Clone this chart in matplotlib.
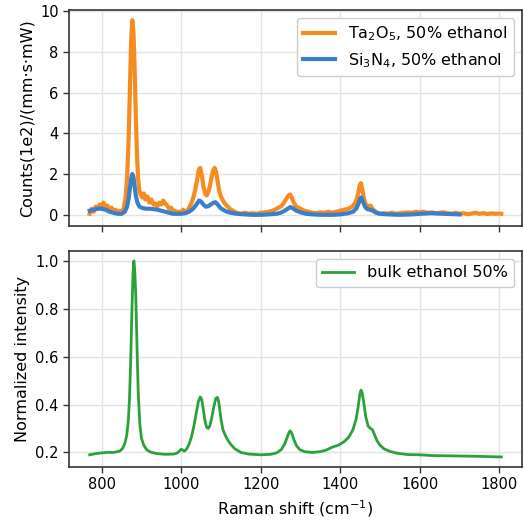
""" Raman spectra: waveguide-enhanced vs bulk 50% ethanol
"""
import matplotlib
matplotlib.use("Agg")
import matplotlib.pyplot as plt

# Ta2O5 waveguide, 50% ethanol (counts in 1e2 / (mm s mW))
ta_shift = [770, 775, 780, 785, 790, 795, 800, 805, 810, 815,
            820, 825, 830, 835, 840, 845, 850, 855, 860, 864,
            868, 871, 874, 877, 880, 883, 886, 889, 892, 895,
            898, 902, 906, 910, 915, 920, 925, 930, 935, 940,
            945, 950, 955, 960, 965, 970, 975, 980, 985, 990,
            995, 1000, 1005, 1010, 1015, 1020, 1025, 1030, 1035, 1040,
            1044, 1048, 1052, 1056, 1060, 1064, 1068, 1072, 1076, 1080,
            1084, 1088, 1092, 1096, 1100, 1105, 1110, 1115, 1120, 1125,
            1130, 1140, 1150, 1160, 1170, 1180, 1190, 1200, 1210, 1220,
            1230, 1240, 1250, 1255, 1260, 1265, 1270, 1274, 1278, 1282,
            1286, 1290, 1295, 1300, 1310, 1320, 1330, 1340, 1350, 1360,
            1370, 1380, 1390, 1400, 1410, 1420, 1430, 1436, 1441, 1445,
            1449, 1452, 1455, 1459, 1463, 1467, 1471, 1476, 1481, 1486,
            1490, 1495, 1500, 1510, 1520, 1530, 1540, 1550, 1560, 1570,
            1580, 1590, 1600, 1610, 1620, 1630, 1640, 1650, 1660, 1670,
            1680, 1690, 1700, 1710, 1720, 1730, 1740, 1750, 1760, 1770,
            1780, 1790, 1800, 1805]
ta_counts = [0.05, 0.3, 0.15, 0.4, 0.3, 0.5, 0.45, 0.6, 0.4, 0.45,
             0.25, 0.35, 0.2, 0.25, 0.1, 0.2, 0.05, 0.3, 0.8, 1.8,
             3.8, 6.0, 8.4, 9.55, 9.0, 7.2, 4.8, 2.9, 1.7, 1.2,
             1.0, 0.85, 1.05, 0.75, 0.9, 0.6, 0.75, 0.5, 0.55, 0.4,
             0.6, 0.5, 0.7, 0.55, 0.45, 0.3, 0.35, 0.15, 0.2, 0.05,
             0.15, 0.1, 0.25, 0.1, 0.2, 0.35, 0.55, 0.8, 1.2, 1.7,
             2.2, 2.3, 1.9, 1.4, 1.05, 0.95, 1.1, 1.4, 1.8, 2.15,
             2.3, 2.1, 1.6, 1.15, 0.9, 0.7, 0.55, 0.45, 0.35, 0.25,
             0.2, 0.1, 0.05, 0.1, 0.05, 0.08, 0.05, 0.1, 0.12, 0.15,
             0.2, 0.3, 0.4, 0.5, 0.65, 0.8, 0.95, 1.0, 0.85, 0.65,
             0.5, 0.4, 0.35, 0.3, 0.2, 0.15, 0.1, 0.08, 0.12, 0.1,
             0.15, 0.1, 0.15, 0.2, 0.25, 0.3, 0.4, 0.55, 0.75, 1.05,
             1.45, 1.55, 1.3, 0.85, 0.55, 0.45, 0.4, 0.45, 0.3, 0.2,
             0.15, 0.08, 0.05, 0.08, 0.05, 0.1, 0.05, 0.08, 0.1, 0.12,
             0.1, 0.15, 0.12, 0.15, 0.1, 0.12, 0.08, 0.1, 0.12, 0.08,
             0.05, 0.1, 0.05, 0.08, 0.03, 0.06, 0.1, 0.05, 0.08, 0.04,
             0.07, 0.05, 0.06, 0.05]

# Si3N4 waveguide, 50% ethanol
si_shift = [770, 780, 790, 800, 810, 820, 830, 840, 850, 858,
            864, 868, 871, 874, 877, 880, 883, 886, 890, 895,
            900, 910, 920, 930, 940, 950, 960, 970, 980, 990,
            1000, 1010, 1020, 1030, 1038, 1045, 1050, 1056, 1062, 1068,
            1074, 1080, 1086, 1092, 1098, 1105, 1115, 1125, 1140, 1160,
            1180, 1200, 1220, 1240, 1250, 1260, 1268, 1275, 1282, 1290,
            1300, 1315, 1330, 1350, 1380, 1400, 1420, 1432, 1440, 1446,
            1450, 1453, 1457, 1462, 1468, 1475, 1482, 1490, 1500, 1520,
            1550, 1580, 1600, 1630, 1660, 1700]
si_counts = [0.2, 0.25, 0.3, 0.3, 0.25, 0.15, 0.1, 0.05, 0.05, 0.15,
             0.4, 0.8, 1.3, 1.75, 2.0, 1.85, 1.4, 0.95, 0.6, 0.4,
             0.35, 0.3, 0.3, 0.28, 0.25, 0.2, 0.15, 0.1, 0.05, 0.05,
             0.05, 0.08, 0.15, 0.3, 0.5, 0.7, 0.65, 0.5, 0.4, 0.42,
             0.5, 0.58, 0.62, 0.5, 0.35, 0.25, 0.15, 0.1, 0.05, 0.02,
             0.0, 0.0, 0.02, 0.05, 0.1, 0.2, 0.3, 0.38, 0.3, 0.2,
             0.12, 0.05, 0.02, 0.0, 0.0, 0.02, 0.08, 0.15, 0.3, 0.55,
             0.8, 0.85, 0.65, 0.4, 0.28, 0.25, 0.2, 0.1, 0.05, 0.02,
             0.0, 0.02, 0.05, 0.08, 0.05, 0.02]

# bulk 50% ethanol, normalized
bulk_shift = [770, 785, 800, 815, 830, 845, 852, 858, 863, 867,
              870, 873, 876, 879, 881, 883, 886, 889, 892, 896,
              900, 906, 914, 925, 940, 960, 980, 990, 995, 1000,
              1004, 1008, 1014, 1020, 1026, 1032, 1038, 1043, 1048, 1052,
              1056, 1060, 1064, 1068, 1072, 1077, 1082, 1087, 1091, 1094,
              1097, 1101, 1105, 1110, 1116, 1124, 1135, 1150, 1170, 1200,
              1225, 1240, 1252, 1260, 1266, 1271, 1274, 1278, 1283, 1290,
              1298, 1310, 1330, 1350, 1365, 1380, 1395, 1410, 1422, 1432,
              1440, 1445, 1449, 1452, 1455, 1459, 1464, 1470, 1476, 1481,
              1486, 1492, 1500, 1510, 1525, 1545, 1570, 1600, 1630, 1660,
              1700, 1740, 1780, 1805]
bulk_norm = [0.19, 0.195, 0.198, 0.2, 0.2, 0.205, 0.215, 0.235, 0.27, 0.33,
             0.42, 0.58, 0.78, 0.95, 1.0, 0.97, 0.85, 0.64, 0.45, 0.32,
             0.26, 0.23, 0.21, 0.2, 0.195, 0.192, 0.193, 0.197, 0.205, 0.213,
             0.21, 0.205, 0.215, 0.235, 0.265, 0.31, 0.365, 0.41, 0.432, 0.42,
             0.375, 0.33, 0.305, 0.3, 0.31, 0.345, 0.39, 0.425, 0.43, 0.415,
             0.38, 0.33, 0.295, 0.275, 0.255, 0.235, 0.215, 0.2, 0.193, 0.19,
             0.192, 0.198, 0.212, 0.235, 0.26, 0.283, 0.29, 0.28, 0.255, 0.228,
             0.212, 0.203, 0.2, 0.203, 0.21, 0.222, 0.23, 0.245, 0.265, 0.295,
             0.34, 0.39, 0.44, 0.46, 0.45, 0.41, 0.35, 0.31, 0.3, 0.295,
             0.275, 0.25, 0.23, 0.215, 0.204, 0.196, 0.191, 0.19, 0.187, 0.186,
             0.185, 0.184, 0.182, 0.181]

plt.rcParams["font.family"] = "DejaVu Sans"
plt.rcParams["font.size"] = 10.5
plt.rcParams["axes.labelsize"] = 11.5
plt.rcParams["legend.fontsize"] = 11.5


def style_axes(ax):
    ax.grid(True, color="#e3e3e3", linewidth=1.0)
    ax.set_axisbelow(True)
    for spine in ax.spines.values():
        spine.set_color("#333333")
        spine.set_linewidth(1.2)
    ax.tick_params(direction="out", length=4, width=1.0, color="#333333")


fig = plt.figure(figsize=(5.24, 5.21), dpi=100)
ax_top = fig.add_axes([0.1317, 0.5662, 0.8645, 0.4146])
ax_bot = fig.add_axes([0.1317, 0.1036, 0.8645, 0.4146], sharex=ax_top)

ax_top.plot(ta_shift, ta_counts, color="#f68b1f", linewidth=3,
            label="Ta$_2$O$_5$, 50% ethanol")
ax_top.plot(si_shift, si_counts, color="#3b7fc9", linewidth=3,
            label="Si$_3$N$_4$, 50% ethanol")
ax_top.set_ylim(-0.55, 10.05)
ax_top.set_yticks([0, 2, 4, 6, 8, 10])
ax_top.set_ylabel("Counts(1e2)/(mm·s·mW)")
ax_top.tick_params(labelbottom=False)
ax_top.legend(loc="upper right", framealpha=1.0, edgecolor="#cccccc")
style_axes(ax_top)

ax_bot.plot(bulk_shift, bulk_norm, color="#2aa23a", linewidth=2,
            label="bulk ethanol 50%")
ax_bot.set_ylim(0.139, 1.041)
ax_bot.set_yticks([0.2, 0.4, 0.6, 0.8, 1.0])
ax_bot.set_xlim(718, 1857)
ax_bot.set_xticks([800, 1000, 1200, 1400, 1600, 1800])
ax_bot.set_xlabel("Raman shift (cm$^{-1}$)")
ax_bot.set_ylabel("Normalized intensity")
ax_bot.legend(loc="upper right", framealpha=1.0, edgecolor="#cccccc")
style_axes(ax_bot)

fig.savefig("out.png", dpi=100)
plt.close(fig)
